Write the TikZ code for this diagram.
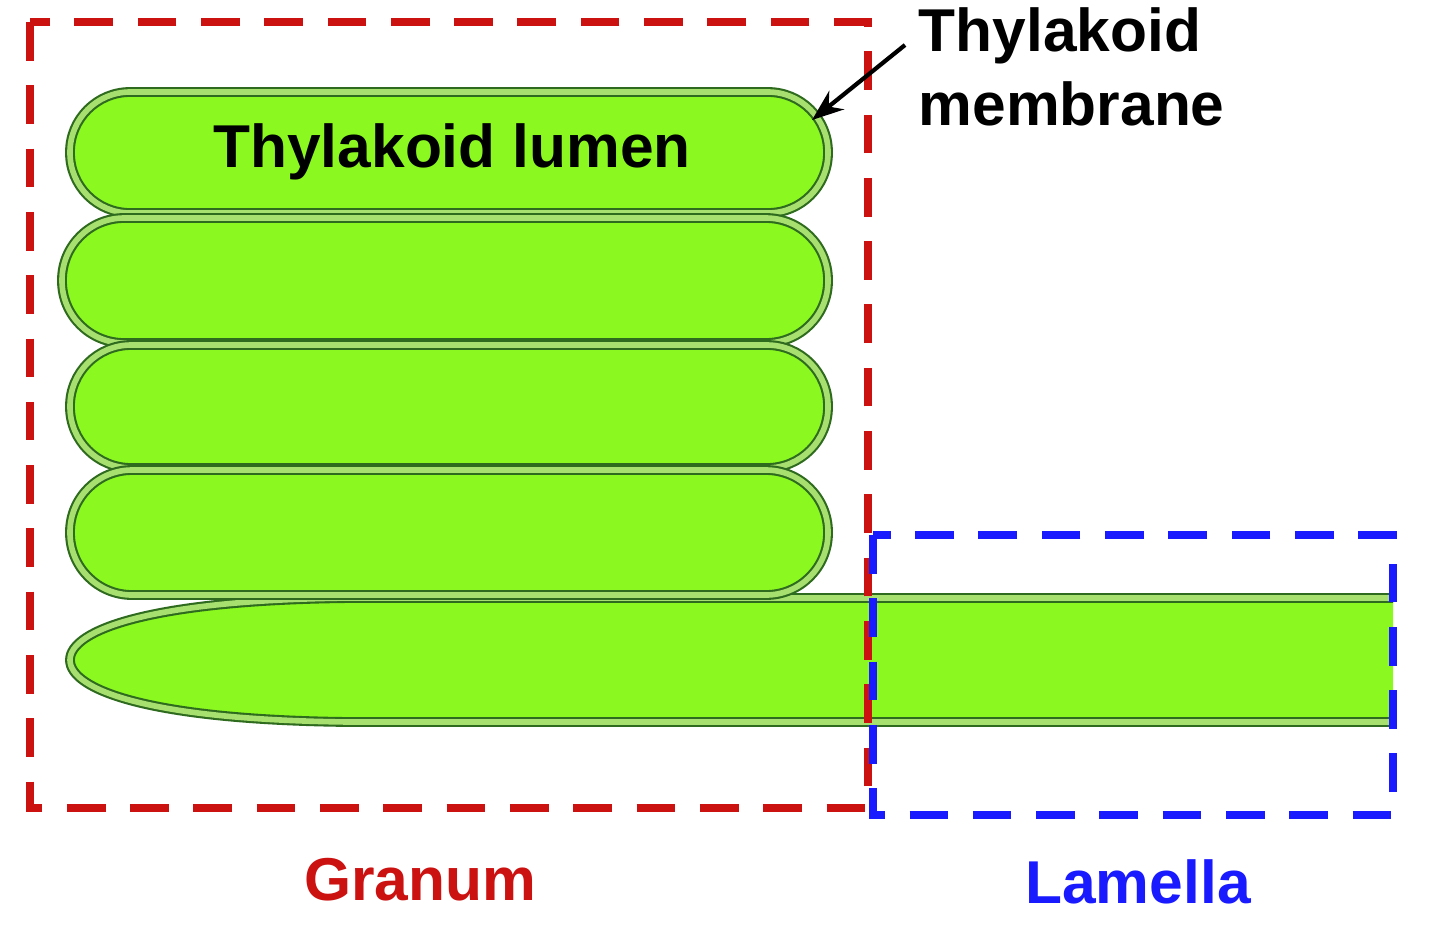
\documentclass[tikz,border=0pt]{standalone}
\usepackage{fontspec}
\setmainfont{Liberation Sans}
\usetikzlibrary{arrows.meta}
\definecolor{leaf}{HTML}{8BF91F}
\definecolor{dkg}{HTML}{2E6B1E}
\definecolor{ltg}{HTML}{A8E070}
\definecolor{rd}{HTML}{CC1111}
\definecolor{bl}{HTML}{1A1AFF}
\tikzset{
  memb/.style={fill=leaf,draw=dkg,double=ltg,double distance=1.6pt,line width=0.6pt},
  lbl/.style={inner sep=0pt,font=\bfseries\fontsize{17.2}{21}\selectfont},
  box/.style={dashed,line width=2.2pt,dash pattern=on 11pt off 7pt}
}
\begin{document}
\begin{tikzpicture}[x=0.01cm,y=-0.01cm]
\useasboundingbox[fill=white] (0,0) rectangle (1440,933);
% bottom lamella thylakoid
\fill[leaf] (1393,598) -- (350,598) .. controls (150,600) and (70,630) .. (70,660) .. controls (70,690) and (150,720) .. (350,722) -- (1393,722) -- cycle;
\draw[memb,fill=none] (1393,598) -- (350,598) .. controls (150,600) and (70,630) .. (70,660) .. controls (70,690) and (150,720) .. (350,722) -- (1393,722);
% stacked thylakoids
\draw[memb,rounded corners=0.6cm] (70,92) rectangle (828,213);
\draw[memb,rounded corners=0.62cm] (62,218) rectangle (828,343);
\draw[memb,rounded corners=0.61cm] (70,345) rectangle (828,468);
\draw[memb,rounded corners=0.62cm] (70,470) rectangle (828,595);
\node[lbl] (lumen) at (452,152) {Thylakoid lumen};
% boxes
\draw[box,rd] (30,22) rectangle (868,808);
\draw[box,bl] (873,535) rectangle (1393,815);
\node[lbl,anchor=north west,align=left] (tm) at (918,7) {Thylakoid\\membrane};
\coordinate (tip) at (812,120);
\draw[-{Stealth[length=9pt]},line width=1.2pt] (905,45) -- (tip);
\node[lbl,text=rd] (gr) at (420,880) {Granum};
\node[lbl,text=bl] (la) at (1138,882) {Lamella};
\end{tikzpicture}
\end{document}
